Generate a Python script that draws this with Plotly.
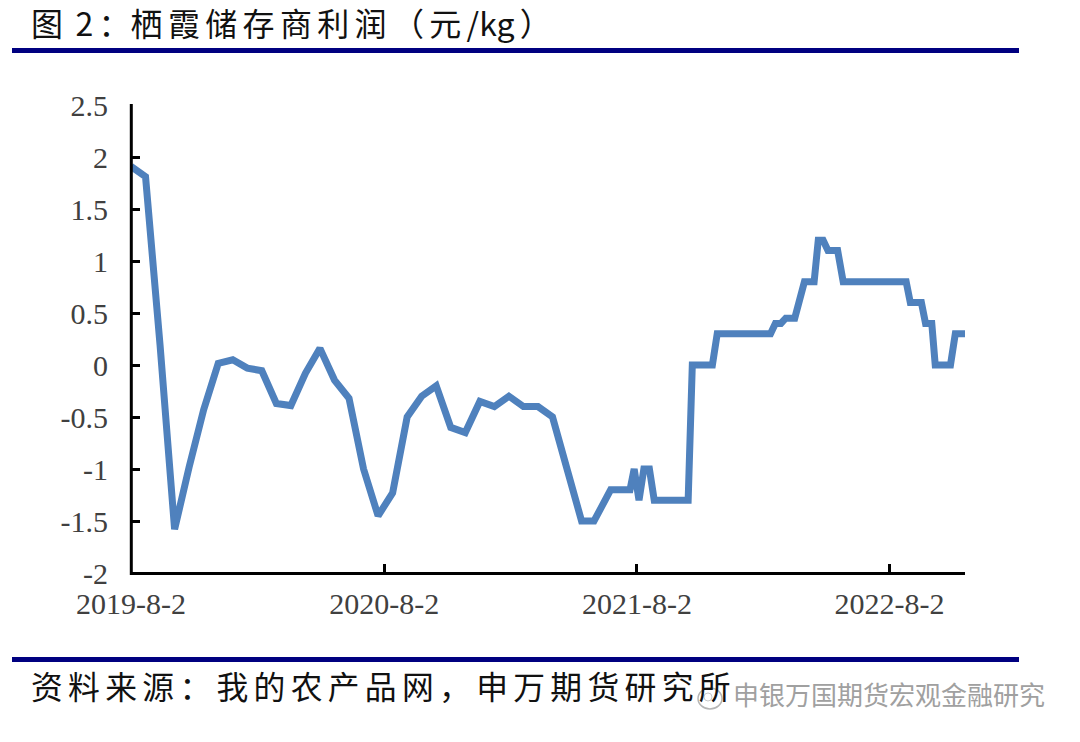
import plotly.graph_objects as go

dates = [
    "2019-08-02","2019-08-23","2019-09-13","2019-10-04","2019-10-25","2019-11-15","2019-12-06","2019-12-27",
    "2020-01-17","2020-02-07","2020-02-28","2020-03-20","2020-04-10","2020-05-01","2020-05-22","2020-06-12",
    "2020-07-03","2020-07-24","2020-08-14","2020-09-04","2020-09-25","2020-10-16","2020-11-06","2020-11-27",
    "2020-12-18","2021-01-08","2021-01-29","2021-02-19","2021-03-12","2021-04-02","2021-04-23","2021-05-14",
    "2021-06-01","2021-06-25","2021-07-23","2021-07-29","2021-08-05","2021-08-12","2021-08-20","2021-08-27",
    "2021-10-15","2021-10-21","2021-11-19","2021-11-26","2022-02-11","2022-02-18","2022-02-26","2022-03-05",
    "2022-03-18","2022-03-25","2022-04-01","2022-04-15","2022-04-21","2022-04-28","2022-05-05","2022-05-19",
    "2022-05-27","2022-08-26","2022-09-01","2022-09-17","2022-09-23","2022-10-02","2022-10-07","2022-10-29",
    "2022-11-05","2022-11-19",
]
profit = [
    1.91,1.81,0.19,-1.58,-0.98,-0.43,0.015,0.05,-0.03,-0.055,-0.37,-0.39,-0.08,0.16,-0.145,-0.32,
    -1.0,-1.45,-1.23,-0.5,-0.3,-0.2,-0.6,-0.65,-0.35,-0.4,-0.3,-0.4,-0.4,-0.5,-1.0,-1.5,
    -1.5,-1.2,-1.2,-1.0,-1.3,-1.0,-1.0,-1.3,-1.3,0,0,0.3,0.3,0.4,0.4,0.45,
    0.45,0.65,0.8,0.8,1.2,1.2,1.1,1.1,0.8,0.8,0.6,0.6,0.4,0.4,0,0,0.3,0.3,
]
x_tick_vals = ["2019-08-02","2020-08-02","2021-08-02","2022-08-02"]
x_tick_text = ["2019-8-2","2020-8-2","2021-8-2","2022-8-2"]
y_tick_vals = [2.5,2,1.5,1,0.5,0,-0.5,-1,-1.5,-2]
y_tick_text = ["2.5","2","1.5","1","0.5","0","-0.5","-1","-1.5","-2"]

W, H = 1080, 742
TICK_FONT = dict(family="Liberation Serif", size=30, color="#404040")
CJK = "Noto Sans CJK SC"
gap = "\u2006"
title_text = "图" + gap + " 2" + gap + "：" + gap.join("栖霞储存商利润（元") + gap + "/kg" + gap + "）"
source_text = gap.join("资料来源：我的农产品网，申万期货研究所")
mark_text = "申银万国期货宏观金融研究"

fig = go.Figure(go.Scatter(x=dates, y=profit, mode="lines", cliponaxis=False,
                           line=dict(color="#4F81BD", width=7), hoverinfo="skip"))
fig.update_layout(
    template="none",
    width=W, height=H, margin=dict(l=0, r=0, t=0, b=0, pad=0),
    paper_bgcolor="white", plot_bgcolor="white", showlegend=False,
    xaxis=dict(type="date", domain=[131/W, 965/W], range=["2019-08-02","2022-11-19"], automargin=False,
               tickmode="array", tickvals=x_tick_vals, ticktext=x_tick_text,
               ticks="inside", ticklen=9, tickwidth=2.5, tickcolor="black",
               showline=False, showgrid=False, zeroline=False,
               tickfont=TICK_FONT, ticklabelstandoff=10),
    yaxis=dict(domain=[(H-573)/H, (H-105)/H], range=[-2, 2.5], automargin=False,
               tickmode="array", tickvals=y_tick_vals, ticktext=y_tick_text,
               ticks="inside", ticklen=9, tickwidth=2.5, tickcolor="black",
               showline=False, showgrid=False, zeroline=False,
               tickfont=TICK_FONT, ticklabelstandoff=22),
    shapes=[
        dict(type="line", xref="paper", yref="paper", x0=131.3/W, x1=131.3/W, y0=1-575/H, y1=1-104/H,
             line=dict(color="black", width=3)),
        dict(type="line", xref="paper", yref="paper", x0=131/W, x1=965/W, y0=1-573.5/H, y1=1-573.5/H,
             line=dict(color="black", width=3.2)),
        dict(type="line", xref="paper", yref="paper", x0=12/W, x1=1019/W, y0=1-50.5/H, y1=1-50.5/H,
             line=dict(color="#000080", width=5)),
        dict(type="line", xref="paper", yref="paper", x0=12/W, x1=1019/W, y0=1-659.5/H, y1=1-659.5/H,
             line=dict(color="#000080", width=5)),
        dict(type="circle", xref="paper", yref="paper", x0=698/W, x1=722/W, y0=1-709/H, y1=1-688/H,
             line=dict(color="#b5b5b5", width=1.5)),
        dict(type="circle", xref="paper", yref="paper", x0=704/W, x1=712/W, y0=1-701/H, y1=1-693/H,
             line=dict(color="#c8c8c8", width=1)),
    ],
    annotations=[
        dict(text=title_text, xref="paper", yref="paper", x=29/W, y=1-22/H, xanchor="left", yanchor="middle",
             showarrow=False, font=dict(family=CJK, size=32, color="#111111")),
        dict(text=source_text, xref="paper", yref="paper", x=29/W, y=1-685/H, xanchor="left", yanchor="middle",
             showarrow=False, font=dict(family=CJK, size=31.8, color="#111111")),
        dict(text=mark_text, xref="paper", yref="paper", x=731/W, y=1-693/H, xanchor="left", yanchor="middle",
             showarrow=False, font=dict(family=CJK, size=26, color="#a0a0a0")),
    ],
)
fig.write_html("out.html", config=dict(displayModeBar=False),
               post_script="document.body.style.margin='0';")
